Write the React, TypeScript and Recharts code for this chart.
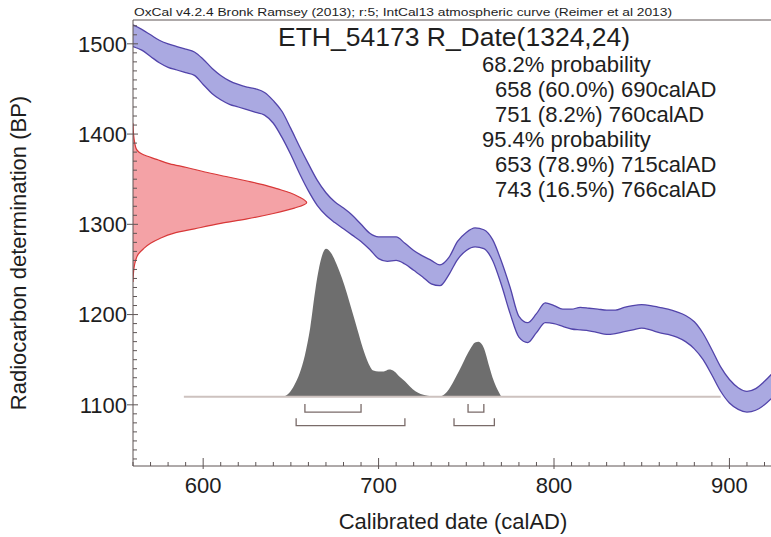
import React from "react";
import { ComposedChart, Area, Line, XAxis, YAxis, ReferenceLine } from "recharts";

const W = 771;
const H = 537;
const FONT = '"Liberation Sans", Arial, Helvetica, sans-serif';
const AXIS = "#5e5555";
const INK = "#1e1e1e";

const X_DOMAIN: [number, number] = [560, 923.7];
const Y_DOMAIN: [number, number] = [1032.2, 1526.4];

const X_TICKS = [
  560, 570, 580, 590, 600, 610, 620, 630, 640, 650, 660, 670, 680, 690, 700, 710, 720, 730, 740,
  750, 760, 770, 780, 790, 800, 810, 820, 830, 840, 850, 860, 870, 880, 890, 900, 910, 920,
];
const X_MAJOR = [600, 700, 800, 900];
const Y_TICKS = [
  1040, 1050, 1060, 1070, 1080, 1090, 1100, 1110, 1120, 1130, 1140, 1150, 1160, 1170, 1180, 1190,
  1200, 1210, 1220, 1230, 1240, 1250, 1260, 1270, 1280, 1290, 1300, 1310, 1320, 1330, 1340, 1350,
  1360, 1370, 1380, 1390, 1400, 1410, 1420, 1430, 1440, 1450, 1460, 1470, 1480, 1490, 1500, 1510,
  1520,
];
const Y_MAJOR = [1100, 1200, 1300, 1400, 1500];

// IntCal13 band (calAD vs BP), upper and lower edges
const CURVE_YEARS = [
  560, 565, 570, 575, 580, 585, 590, 595, 600, 605, 610, 615, 620, 625, 630, 635, 640, 645, 650,
  655, 660, 665, 670, 675, 680, 685, 690, 695, 700, 705, 710, 715, 720, 725, 730, 735, 740, 745,
  750, 755, 760, 765, 770, 775, 780, 785, 790, 795, 800, 805, 810, 815, 820, 825, 830, 835, 840,
  845, 850, 855, 860, 865, 870, 875, 880, 885, 890, 895, 900, 905, 910, 915, 920, 925,
];
const CURVE_UPPER = [
  1521, 1516, 1510, 1504, 1500, 1497, 1494, 1491, 1483, 1473, 1465, 1459, 1455, 1452, 1450, 1446,
  1437, 1425, 1406, 1386, 1367, 1349, 1335, 1325, 1318, 1310, 1300, 1290, 1286, 1286, 1286, 1279,
  1271, 1265, 1260, 1255, 1263, 1281, 1291, 1296, 1294, 1283, 1259, 1230, 1198, 1191, 1201, 1213,
  1210, 1206, 1206, 1208, 1207, 1206, 1205, 1205, 1208, 1210, 1211, 1210, 1208, 1206, 1203, 1199,
  1192, 1179, 1161, 1142, 1128, 1119, 1115, 1118, 1126, 1136,
];
const CURVE_LOWER = [
  1497, 1493, 1486, 1479, 1474, 1471, 1468, 1465, 1455, 1445, 1438, 1433, 1430, 1427, 1424, 1421,
  1412, 1396, 1377, 1356, 1337, 1321, 1310, 1302, 1295, 1288, 1281, 1272, 1262, 1259, 1260, 1256,
  1249, 1242, 1234, 1232, 1244, 1261, 1271, 1275, 1273, 1260, 1233, 1201, 1175, 1169, 1180, 1191,
  1190, 1187, 1184, 1183, 1182, 1180, 1178, 1179, 1181, 1183, 1185, 1183, 1180, 1178, 1175, 1170,
  1162, 1150, 1133, 1115, 1102, 1095, 1092, 1094, 1100, 1109,
];

// R_Date(1324,24) distribution along the BP axis
const DATE_BP = [
  1236, 1245, 1252, 1260, 1267, 1273, 1279, 1284, 1290, 1295, 1301, 1306, 1312, 1318, 1324, 1330,
  1335, 1339, 1344, 1348, 1353, 1358, 1363, 1367, 1372, 1377, 1383, 1390, 1400, 1412,
];
const DATE_EXT = [
  560, 560.2, 560.6, 561.5, 563, 566, 570, 575, 583, 595, 610, 625, 640, 652, 659, 655, 649.5, 643,
  634, 625, 613, 601, 590.6, 581, 573.5, 566, 562, 561, 560.3, 560,
];

// calibrated probability
const POST_BASE = 1109;
const POST_LINE = [589, 895];
const POST_YEARS = [
  646, 649, 652, 655, 658, 661, 664, 667, 670, 673, 676, 679, 682, 685, 688, 691, 694, 697, 700,
  703, 706, 709, 712, 715, 718, 721, 724, 728, 734, 737, 740, 743, 746, 749, 752, 755, 757, 760,
  763, 765, 767, 770,
];
const POST_BP = [
  1109, 1113, 1122, 1135, 1155, 1185, 1228, 1260, 1273, 1268, 1256, 1241, 1223, 1203, 1183, 1163,
  1147, 1138, 1137, 1137, 1139, 1137, 1131, 1126, 1120, 1115, 1112, 1110, 1109, 1111, 1117, 1127,
  1138, 1150, 1161, 1169, 1170, 1163, 1143, 1130, 1120, 1109,
];

const RANGES_68 = [
  [658, 690],
  [751, 760],
];
const RANGES_95 = [
  [653, 715],
  [743, 766],
];
const BAR_68 = [1092, 1101];
const BAR_95 = [1077, 1085];

const SUBTITLE = "OxCal v4.2.4 Bronk Ramsey (2013); r:5; IntCal13 atmospheric curve (Reimer et al 2013)";
const TITLE = "ETH_54173 R_Date(1324,24)";
const PROB_LINES = [
  "68.2% probability",
  "658 (60.0%) 690calAD",
  "751 (8.2%) 760calAD",
  "95.4% probability",
  "653 (78.9%) 715calAD",
  "743 (16.5%) 766calAD",
];
const PROB_INDENT = [false, true, true, false, true, true];

const curveData = CURVE_YEARS.map((year, i) => ({ year, band: [CURVE_LOWER[i], CURVE_UPPER[i]] }));
const postData = POST_YEARS.map((year, i) => ({ year, band: [POST_BASE, POST_BP[i]] }));
const dateData = DATE_BP.map((bp, i) => ({ bp, ext: DATE_EXT[i] }));

const bracket = (range: number[], bar: number[]) => [
  { year: range[0], v: bar[1] },
  { year: range[0], v: bar[0] },
  { year: range[1], v: bar[0] },
  { year: range[1], v: bar[1] },
];
const brackets = [
  ...RANGES_68.map((r) => bracket(r, BAR_68)),
  ...RANGES_95.map((r) => bracket(r, BAR_95)),
];

const YTick = ({ x, y, payload }: any) => {
  const major = Y_MAJOR.includes(payload.value);
  return (
    <g>
      <line x1={major ? x - 6 : x} x2={x + (major ? 5 : 4)} y1={y} y2={y} stroke={AXIS} />
      {major && (
        <text x={x - 6} y={y} dy="0.36em" textAnchor="end" fontSize={22} fontFamily={FONT} fill={INK}>
          {payload.value}
        </text>
      )}
    </g>
  );
};

const XTick = ({ x, y, payload }: any) => {
  const major = X_MAJOR.includes(payload.value);
  return (
    <g>
      <line x1={x} x2={x} y1={y - (major ? 8 : 4)} y2={y + (major ? 3 : 0)} stroke={AXIS} />
      {major && (
        <text x={x} y={y + 27} textAnchor="middle" fontSize={22} fontFamily={FONT} fill={INK}>
          {payload.value}
        </text>
      )}
    </g>
  );
};

export default function App() {
  return (
    <div style={{ position: "absolute", left: 0, top: 0, width: W, height: H, background: "#fff" }}>
      <div style={{ position: "absolute", left: 0, top: 0 }}>
        <ComposedChart
          layout="vertical"
          width={W}
          height={H}
          data={dateData}
          margin={{ top: 20, right: 0, bottom: 71, left: 133 }}
        >
          <XAxis type="number" domain={X_DOMAIN} allowDataOverflow hide />
          <YAxis type="number" dataKey="bp" domain={Y_DOMAIN} allowDataOverflow reversed hide />
          <Area
            dataKey="ext"
            type="monotone"
            fill="#f4a2a6"
            fillOpacity={1}
            stroke="#d83838"
            strokeWidth={1.2}
            isAnimationActive={false}
          />
        </ComposedChart>
      </div>
      <div style={{ position: "absolute", left: 0, top: 0 }}>
        <ComposedChart width={W} height={H} margin={{ top: 20, right: 0, bottom: 0, left: 0 }}>
          <XAxis
            type="number"
            dataKey="year"
            domain={X_DOMAIN}
            allowDataOverflow
            ticks={X_TICKS}
            interval={0}
            tickSize={0}
            tickMargin={0}
            tick={(p: any) => <XTick {...p} />}
            height={71}
            stroke={AXIS}
          />
          <YAxis
            type="number"
            domain={Y_DOMAIN}
            allowDataOverflow
            ticks={Y_TICKS}
            interval={0}
            tickSize={0}
            tickMargin={0}
            tick={(p: any) => <YTick {...p} />}
            width={133}
            stroke={AXIS}
          />
          <ReferenceLine y={Y_DOMAIN[1]} stroke={AXIS} ifOverflow="visible" />
          <Area
            data={curveData}
            dataKey="band"
            type="monotone"
            fill="#aaa9e1"
            fillOpacity={1}
            stroke="#5244aa"
            strokeWidth={1.3}
            isAnimationActive={false}
          />
          <ReferenceLine
            segment={[
              { x: POST_LINE[0], y: POST_BASE },
              { x: POST_LINE[1], y: POST_BASE },
            ]}
            stroke="#cdc2bf"
            strokeWidth={2}
          />
          <Area
            data={postData}
            dataKey="band"
            type="monotone"
            fill="#6e6e6e"
            fillOpacity={1}
            stroke="none"
            isAnimationActive={false}
          />
          {brackets.map((b, i) => (
            <Line
              key={i}
              data={b}
              dataKey="v"
              type="linear"
              stroke="#7a6b69"
              strokeWidth={1.3}
              dot={false}
              isAnimationActive={false}
            />
          ))}
          <text x={134} y={16} fontSize={11} fontFamily={FONT} fill={INK} textLength={538} lengthAdjust="spacingAndGlyphs">
            {SUBTITLE}
          </text>
          <text x={454} y={46} textAnchor="middle" fontSize={26.5} fontFamily={FONT} fill={INK}>
            {TITLE}
          </text>
          {PROB_LINES.map((t, i) => (
            <text key={t} x={PROB_INDENT[i] ? 495 : 482} y={72 + i * 25} fontSize={22} fontFamily={FONT} fill={INK}>
              {t}
            </text>
          ))}
          <text x={453} y={529} textAnchor="middle" fontSize={22} fontFamily={FONT} fill={INK}>
            Calibrated date (calAD)
          </text>
          <text x={26} y={253} transform="rotate(-90 26 253)" textAnchor="middle" fontSize={22} fontFamily={FONT} fill={INK}>
            Radiocarbon determination (BP)
          </text>
        </ComposedChart>
      </div>
    </div>
  );
}
